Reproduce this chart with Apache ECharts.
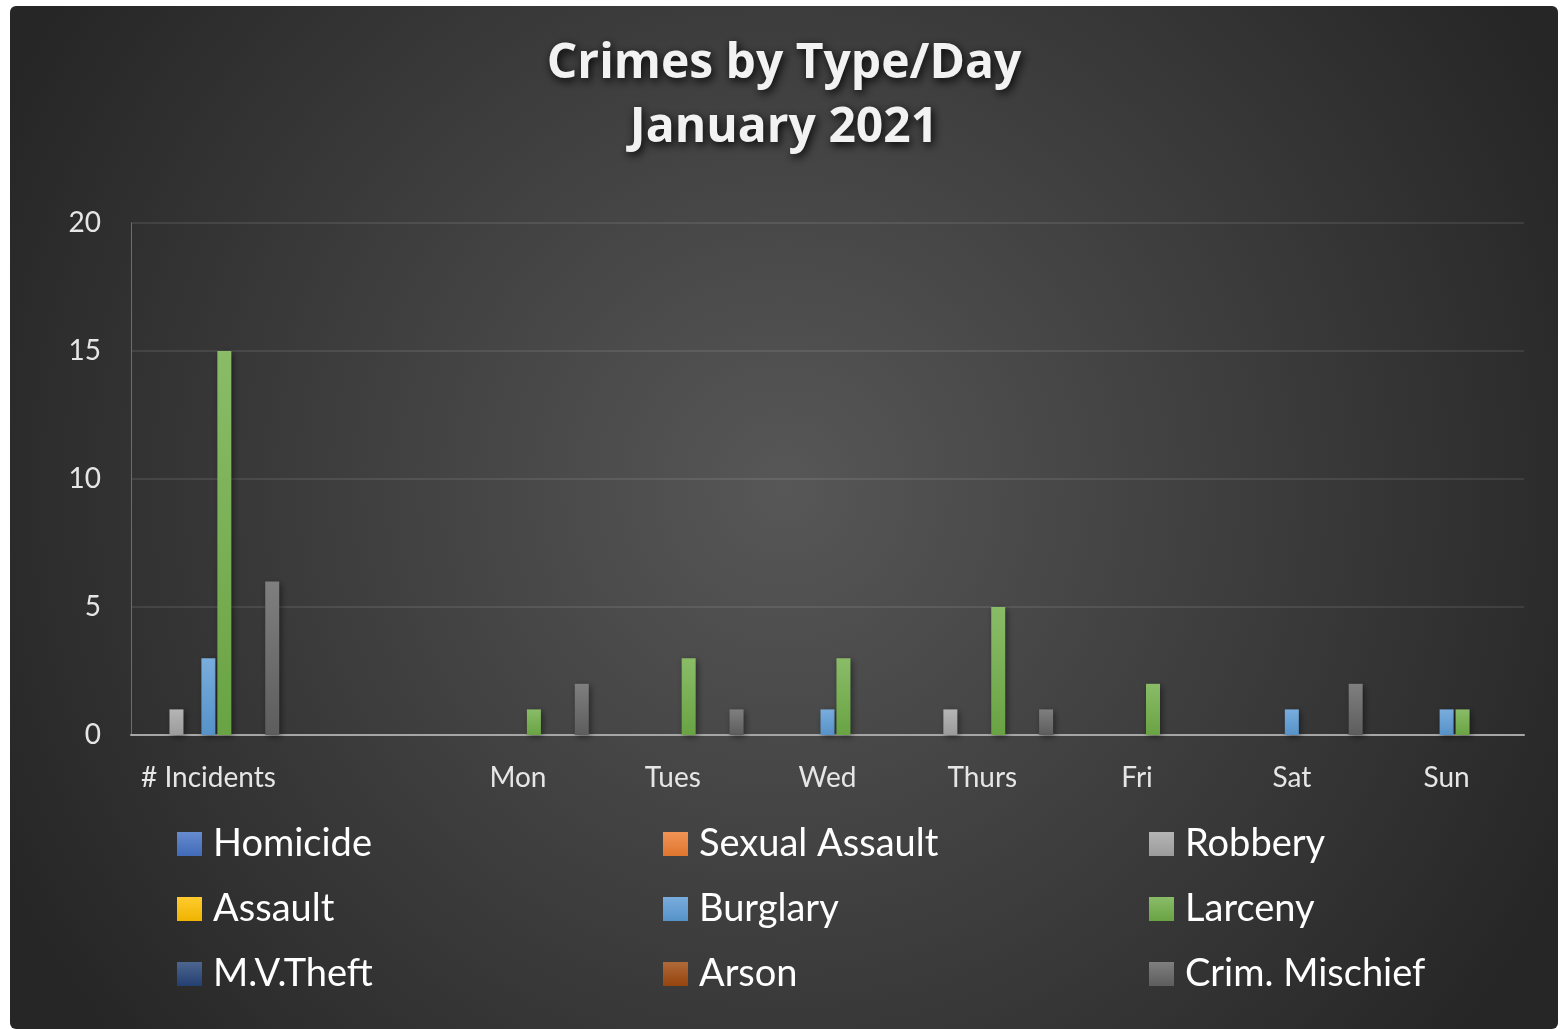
<!DOCTYPE html>
<html>
<head>
<meta charset="utf-8">
<script src="https://cdn.jsdelivr.net/npm/echarts@6/dist/echarts.min.js"></script>
<style>
  html, body { margin: 0; padding: 0; background: #ffffff; }
  #chart { position: absolute; left: 10px; top: 6px; width: 1548px; height: 1023px; border-radius: 6px; overflow: hidden; }
</style>
</head>
<body>
<div id="chart"></div>
<script>
// ---- data ----
const categories = ['# Incidents', '', 'Mon', 'Tues', 'Wed', 'Thurs', 'Fri', 'Sat', 'Sun'];
const seriesNames = ['Homicide', 'Sexual Assault', 'Robbery', 'Assault', 'Burglary', 'Larceny', 'M.V.Theft', 'Arson', 'Crim. Mischief'];
const homicide      = [0, 0, 0, 0, 0, 0, 0, 0, 0];
const sexualAssault = [0, 0, 0, 0, 0, 0, 0, 0, 0];
const robbery       = [1, 0, 0, 0, 0, 1, 0, 0, 0];
const assault       = [0, 0, 0, 0, 0, 0, 0, 0, 0];
const burglary      = [3, 0, 0, 0, 1, 0, 0, 1, 1];
const larceny       = [15, 0, 1, 3, 3, 5, 2, 0, 1];
const mvTheft       = [0, 0, 0, 0, 0, 0, 0, 0, 0];
const arson         = [0, 0, 0, 0, 0, 0, 0, 0, 0];
const crimMischief  = [6, 0, 2, 1, 0, 1, 0, 2, 0];
const yTicks = [0, 5, 10, 15, 20];

const seriesData = [homicide, sexualAssault, robbery, assault, burglary, larceny, mvTheft, arson, crimMischief];
const baseColors = ['#4472C4', '#ED7D31', '#A5A5A5', '#FFC000', '#5B9BD5', '#70AD47', '#264478', '#9E480E', '#636363'];

function lighten(hex, amt) {
  const n = parseInt(hex.slice(1), 16);
  let r = (n >> 16) & 255, g = (n >> 8) & 255, b = n & 255;
  r = Math.round(r + (255 - r) * amt);
  g = Math.round(g + (255 - g) * amt);
  b = Math.round(b + (255 - b) * amt);
  return 'rgb(' + r + ',' + g + ',' + b + ')';
}
function darken(hex, amt) {
  const n = parseInt(hex.slice(1), 16);
  let r = (n >> 16) & 255, g = (n >> 8) & 255, b = n & 255;
  return 'rgb(' + Math.round(r * (1 - amt)) + ',' + Math.round(g * (1 - amt)) + ',' + Math.round(b * (1 - amt)) + ')';
}
function grad(hex) {
  return {
    type: 'linear', x: 0, y: 0, x2: 0, y2: 1,
    colorStops: [
      { offset: 0, color: lighten(hex, 0.18) },
      { offset: 1, color: darken(hex, 0.06) }
    ]
  };
}

const FONT = 'Lato, "Open Sans", sans-serif';

const series = seriesNames.map((name, i) => ({
  name: name,
  type: 'bar',
  data: seriesData[i],
  barWidth: 14,
  barGap: '14%',
  itemStyle: {
    color: grad(baseColors[i]),
    shadowColor: 'rgba(0,0,0,0.45)',
    shadowBlur: 6,
    shadowOffsetX: 2,
    shadowOffsetY: 2
  },
  emphasis: { disabled: true }
}));

function legendCol(left, names) {
  return {
    orient: 'vertical',
    left: left,
    top: 814,
    itemWidth: 25,
    itemHeight: 24,
    itemGap: 27,
    icon: 'rect',
    data: names,
    selectedMode: false,
    textStyle: { color: '#ffffff', fontSize: 38, lineHeight: 38, fontFamily: FONT, padding: [0, 0, 0, 6] }
  };
}

const chart = echarts.init(document.getElementById('chart'), null, { renderer: 'canvas' });
chart.setOption({
  animation: false,
  backgroundColor: {
    type: 'radial', x: 0.5, y: 0.47, r: 0.85,
    colorStops: [
      { offset: 0, color: '#575757' },
      { offset: 1, color: '#262626' }
    ]
  },
  title: {
    text: 'Crimes by Type/Day\nJanuary 2021',
    left: 'center',
    top: 21,
    textStyle: {
      color: '#f2f2f2',
      fontSize: 48,
      fontWeight: 'bold',
      fontFamily: '"Open Sans", Lato, sans-serif',
      lineHeight: 64,
      textShadowColor: 'rgba(0,0,0,0.95)',
      textShadowBlur: 10,
      textShadowOffsetX: 2,
      textShadowOffsetY: 3
    }
  },
  legend: [
    legendCol(162, [seriesNames[0], seriesNames[3], seriesNames[6]]),
    legendCol(648, [seriesNames[1], seriesNames[4], seriesNames[7]]),
    legendCol(1134, [seriesNames[2], seriesNames[5], seriesNames[8]])
  ],
  grid: { left: 121, right: 34, top: 217, bottom: 294 },
  xAxis: {
    type: 'category',
    data: categories,
    axisLine: { show: true, lineStyle: { color: '#a6a6a6', width: 2 } },
    axisTick: { show: false },
    axisLabel: { color: '#e6e6e6', fontSize: 28, fontFamily: FONT, margin: 29, interval: 0 },
    splitLine: { show: false }
  },
  yAxis: {
    type: 'value',
    min: 0, max: 20, interval: 5,
    axisLine: { show: true, lineStyle: { color: '#4a70b8', width: 1 } },
    axisTick: { show: false },
    axisLabel: {
      color: '#e6e6e6', fontSize: 28, fontFamily: FONT, margin: 30,
      formatter: v => (yTicks.indexOf(v) >= 0 ? String(v) : '')
    },
    splitLine: { lineStyle: { color: 'rgba(255,255,255,0.09)', width: 2 } }
  },
  series: series
});
</script>
</body>
</html>
